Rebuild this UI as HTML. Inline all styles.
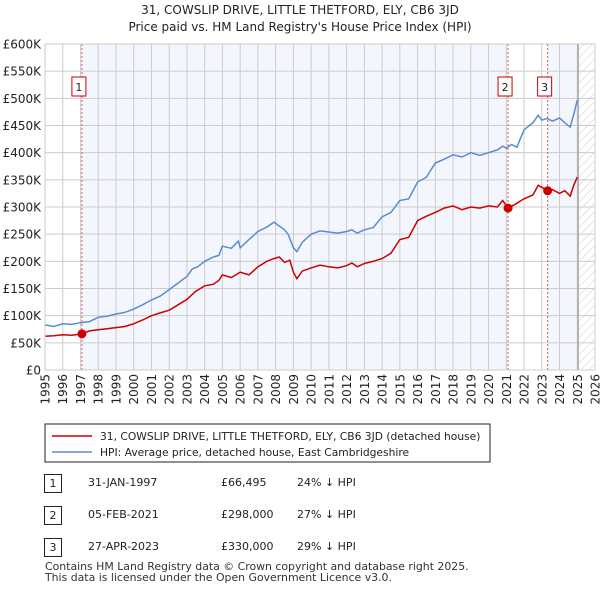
<!DOCTYPE html>
<html><head><meta charset="utf-8"><style>
body{margin:0;background:#fff;font-family:"DejaVu Sans","Liberation Sans",sans-serif;}
#wrap{position:relative;width:600px;height:590px;overflow:hidden;}
.t{position:absolute;font-size:12px;color:#222;white-space:nowrap;}
svg text{font-family:"DejaVu Sans","Liberation Sans",sans-serif;}
</style></head><body>
<div id="wrap">
<svg id="svg" width="600" height="590" style="position:absolute;left:0;top:0">
<defs><pattern id="hatch" width="6" height="6" patternUnits="userSpaceOnUse" patternTransform="rotate(45)"><line x1="0" y1="0" x2="0" y2="6" stroke="#ccc" stroke-width="1"/></pattern></defs>
<text x="300" y="14" text-anchor="middle" font-size="12" fill="#222">31, COWSLIP DRIVE, LITTLE THETFORD, ELY, CB6 3JD</text>
<text x="300" y="31" text-anchor="middle" font-size="12" fill="#222">Price paid vs. HM Land Registry's House Price Index (HPI)</text>
<g id="plot"></g>
<rect x="45" y="424" width="445" height="38" fill="#fff" stroke="#222"/>
<line x1="52" y1="436" x2="92" y2="436" stroke="#cc0000" stroke-width="1.5"/>
<text x="100" y="440" font-size="10.7" fill="#222">31, COWSLIP DRIVE, LITTLE THETFORD, ELY, CB6 3JD (detached house)</text>
<line x1="52" y1="452" x2="92" y2="452" stroke="#5b8bd0" stroke-width="1.5"/>
<text x="100" y="456" font-size="10.7" fill="#222">HPI: Average price, detached house, East Cambridgeshire</text>
</svg>
<div id="table"></div>
<div class="t" style="left:45px;top:560px;font-size:10.9px;color:#333">Contains HM Land Registry data © Crown copyright and database right 2025.</div>
<div class="t" style="left:45px;top:571px;font-size:10.9px;color:#333">This data is licensed under the Open Government Licence v3.0.</div>
</div>
<script>
const hpiYears=[1995,1995.5,1996,1996.5,1997,1997.5,1998,1998.5,1999,1999.5,2000,2000.5,2001,2001.5,2002,2002.5,2003,2003.3,2003.6,2004,2004.5,2004.8,2005,2005.5,2005.9,2006,2006.5,2007,2007.5,2007.9,2008.2,2008.5,2008.7,2009,2009.2,2009.5,2010,2010.5,2011,2011.5,2012,2012.3,2012.6,2013,2013.5,2014,2014.5,2015,2015.5,2016,2016.5,2017,2017.5,2018,2018.5,2019,2019.5,2020,2020.5,2020.8,2021,2021.3,2021.6,2022,2022.5,2022.8,2023,2023.3,2023.6,2024,2024.3,2024.6,2024.8,2025];
const hpiValues=[83,80,85,84,87,89,97,99,103,106,112,120,129,136,148,160,172,186,190,200,208,211,228,224,237,225,240,255,263,272,265,258,250,225,218,235,250,256,254,252,255,258,252,258,262,282,290,312,315,346,355,381,388,396,392,400,395,400,405,412,408,415,410,442,455,469,460,463,458,464,455,447,470,497];
const priceYears=[1995,1995.5,1996,1996.5,1997.08,1997.5,1998,1998.5,1999,1999.5,2000,2000.5,2001,2001.5,2002,2002.5,2003,2003.5,2004,2004.5,2004.8,2005,2005.5,2006,2006.5,2007,2007.5,2007.9,2008.2,2008.5,2008.8,2009,2009.2,2009.5,2010,2010.5,2011,2011.5,2012,2012.3,2012.6,2013,2013.5,2014,2014.5,2015,2015.5,2016,2016.5,2017,2017.5,2018,2018.5,2019,2019.5,2020,2020.5,2020.8,2021.1,2021.5,2022,2022.5,2022.8,2023.33,2023.6,2024,2024.3,2024.6,2024.8,2025];
const priceValues=[62,63,65,64,66.5,72,74,76,78,80,85,92,100,105,110,120,130,145,155,158,165,175,170,180,175,190,200,205,208,198,202,180,168,182,188,193,190,188,192,197,190,196,200,205,215,240,244,275,283,290,298,302,295,300,298,302,300,312,298,305,315,322,340,330,332,325,330,320,340,355];
const yTicks=[0,50,100,150,200,250,300,350,400,450,500,550,600];
const xTicks=[1995,1996,1997,1998,1999,2000,2001,2002,2003,2004,2005,2006,2007,2008,2009,2010,2011,2012,2013,2014,2015,2016,2017,2018,2019,2020,2021,2022,2023,2024,2025,2026];
const saleDates=[1997.08,2021.1,2023.33];
const saleValues=[66.495,298,330];
const saleLabels=["1","2","3"];
const tableDates=["31-JAN-1997","05-FEB-2021","27-APR-2023"];
const tablePrices=["£66,495","£298,000","£330,000"];
const tableHpi=["24% ↓ HPI","27% ↓ HPI","29% ↓ HPI"];

const NS="http://www.w3.org/2000/svg";
const X0=45,X1=595,Y0=370,Y1=44;
const xs=v=>X0+(v-1995)/31*(X1-X0);
const ys=v=>Y0-v/600*(Y0-Y1);
const g=document.getElementById('plot');
function mk(tag,attrs){const e=document.createElementNS(NS,tag);for(const k in attrs)e.setAttribute(k,attrs[k]);g.appendChild(e);return e;}
let e;
e=mk('rect',{x:xs(saleDates[0]),y:Y1,width:xs(saleDates[1])-xs(saleDates[0]),height:Y0-Y1,fill:'#f3f6fd'});


e=mk('rect',{x:xs(saleDates[2]),y:Y1,width:xs(2025.0)-xs(saleDates[2]),height:Y0-Y1,fill:'#f3f6fd'});


e=mk('rect',{x:xs(2025.1),y:Y1,width:X1-xs(2025.1),height:Y0-Y1,fill:'url(#hatch)'});


yTicks.forEach(v=>{
  e=mk('line',{x1:X0,x2:X1,y1:ys(v),y2:ys(v),stroke:'#ccc','stroke-width':1});
  
  
  e=mk('text',{x:41,y:ys(v)+4.5,'text-anchor':'end','font-size':12,fill:'#222'});
  e.textContent=v===0?'£0':'£'+v+'K';
  
  
});
xTicks.forEach(v=>{
  e=mk('line',{x1:xs(v),x2:xs(v),y1:Y1,y2:Y0,stroke:'#ccc','stroke-width':1});
  
  
  e=mk('text',{x:0,y:0,'text-anchor':'end','font-size':12,fill:'#222',transform:`translate(${xs(v)+4.5},374) rotate(-90)`});
  e.textContent=v;
  
  
});
e=mk('line',{x1:xs(2025.05),x2:xs(2025.05),y1:Y1,y2:Y0,stroke:'#999','stroke-width':1.2});


saleDates.forEach((d,i)=>{
  e=mk('line',{x1:xs(d),x2:xs(d),y1:Y1,y2:Y0,stroke:'#e05555','stroke-width':1,'stroke-dasharray':'2,2'});
  
  
});
function path(xa,va,col,name){
  let d=xa.map((x,i)=>(i?'L':'M')+xs(x).toFixed(1)+','+ys(va[i]).toFixed(1)).join('');
  e=mk('path',{d:d,fill:'none',stroke:col,'stroke-width':1.5});
  
  
}
path(hpiYears,hpiValues,'#5b8bd0','hpi-line');
path(priceYears,priceValues,'#cc0000','price-line');
saleDates.forEach((d,i)=>{
  e=mk('circle',{cx:xs(d),cy:ys(saleValues[i]),r:4.5,fill:'#cc0000'});
  
  
  const bx=xs(d)-3-7;
  e=mk('rect',{x:bx,y:77,width:14,height:19,fill:'#fff',stroke:'#cc0000'});
  
  
  e=mk('text',{x:bx+7,y:91,'text-anchor':'middle','font-size':11,fill:'#222'});
  e.textContent=saleLabels[i];
  
  
});
e=mk('rect',{x:X0,y:Y1,width:X1-X0,height:Y0-Y1,fill:'none',stroke:'#ccc'});



const tb=document.getElementById('table');
saleLabels.forEach((l,i)=>{
  const y=474+i*32;
  const b=document.createElement('div');
  b.className='t';b.style.cssText=`left:44px;top:${y}px;width:16px;height:17px;border:1px solid #222;text-align:center;line-height:17px;font-size:11px`;
  b.textContent=l;
  
  
  tb.appendChild(b);
  [[88,tableDates[i]],[221,tablePrices[i]],[297,tableHpi[i]]].forEach(([x,t])=>{
    const c=document.createElement('div');c.className='t';c.style.cssText=`left:${x}px;top:${y+2}px;font-size:11px`;
    c.textContent=t;
    
    
    tb.appendChild(c);
  });
});
</script>
</body></html>
